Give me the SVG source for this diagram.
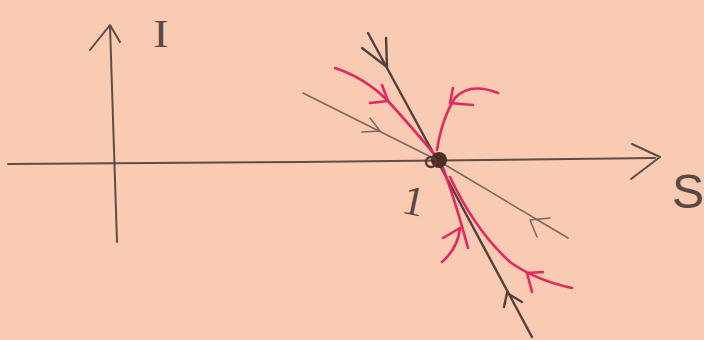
<svg xmlns="http://www.w3.org/2000/svg" width="704" height="340" viewBox="0 0 704 340">
<style>
.ax{fill:none;stroke:#5e4c46;stroke-width:2;stroke-linecap:round;stroke-linejoin:round}
.dk{fill:none;stroke:#54403b;stroke-width:2.4;stroke-linecap:round;stroke-linejoin:round}
.th{fill:none;stroke:#7a6661;stroke-width:1.5;stroke-linecap:round;stroke-linejoin:round}
.rd{fill:none;stroke:#e3285f;stroke-width:2.6;stroke-linecap:round;stroke-linejoin:round}
.lbl{fill:#5a4842;font-family:"Liberation Serif",serif}
.lbs{fill:#5a4842;font-family:"Liberation Sans",sans-serif}
</style>
<rect width="704" height="340" fill="#f9cbb3"/>
<g id="axes">
<path class="ax" d="M8,164 L300,162 L655,158"/>
<path class="ax" d="M632,144 L660,157 L631,179"/>
<path class="ax" d="M117,242 L110,26"/>
<path class="ax" d="M90,50 L110,25 L120,42"/>
<text class="lbl" x="161" y="47" font-size="40" text-anchor="middle" transform="scale(1.15 1) translate(-21 0)">I</text>
<text class="lbs" x="688" y="208" font-size="48" text-anchor="middle">S</text>
</g>
<g id="connectors">
<path class="dk" d="M368,33 L437,160 L532,337"/>
<path class="dk" d="M362,48 L387,67 L386,38"/>
<path class="dk" d="M504,307 L507,293 L522,302"/>
<path class="th" d="M303,93 L437,160 L568,238"/>
<path class="th" d="M370,118 L380,131 L362,132"/>
<path class="th" d="M550,218 L530,220 L537,237"/>
<path class="rd" d="M335,68 Q365,78 387,100 Q410,125 435,155"/>
<path class="rd" d="M370,103 L388,101 L382,85"/>
<path class="rd" d="M498,93 Q470,82 455,98 Q442,118 437,150"/>
<path class="rd" d="M453,88 L450,103 L473,105"/>
<path class="rd" d="M443,168 Q455,200 468,248"/>
<path class="rd" d="M442,262 Q458,248 460,228"/>
<path class="rd" d="M443,238 L460,228"/>
<path class="rd" d="M450,177 Q475,230 510,262 Q535,280 572,288"/>
<path class="rd" d="M543,272 L527,273 L532,292"/>
</g>
<g id="equilibrium">
<circle cx="439" cy="160" r="8" fill="#4a2e28"/>
<circle cx="431" cy="162" r="5" fill="none" stroke="#5a3a32" stroke-width="2.4"/>
</g>
<g id="label1">
<text class="lbl" x="414" y="215" font-size="42" text-anchor="middle" transform="rotate(12 414 200)">1</text>
</g>
</svg>
